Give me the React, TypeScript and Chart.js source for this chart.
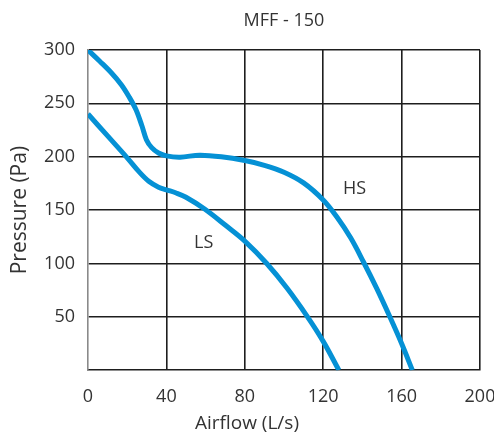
import React, { useEffect, useRef } from "react";
import { Chart, registerables } from "chart.js";

Chart.register(...registerables);

// ---- data ----
const hsFlow = [0, 6, 12, 17, 21, 24.5, 27.5, 29.8, 32.5, 36, 40, 47, 57, 68, 80, 90, 100, 110, 120, 127, 134, 140.5, 147.3, 154, 160, 165.5];
const hsPressure = [300, 289.5, 278.5, 267.5, 256, 244, 229, 216, 208.5, 203.5, 200.8, 199.6, 201.5, 200, 196.4, 192, 185.5, 175.5, 159.5, 143.5, 124, 101.6, 76.6, 50, 25, 0];

const lsFlow = [0, 10, 20, 26, 31, 36, 40, 45, 50, 59.5, 70, 80, 91.2, 101.5, 112, 120, 128];
const lsPressure = [240, 219.5, 199, 186, 177, 171.5, 169, 166, 162, 151, 136, 121, 100, 77, 50, 27, 0];

const xTicks = [0, 40, 80, 120, 160, 200];
const yTicks = [50, 100, 150, 200, 250, 300];

const curveLabels = ["HS", "LS"];
const curveLabelFlow = [136, 59];
const curveLabelPressure = [170, 119];

const chartTitle = "MFF - 150";
const xTitle = "Airflow (L/s)";
const yTitle = "Pressure (Pa)";

const FONT = "'Open Sans', 'Noto Sans', sans-serif";
const TEXT = "#333333";
const GRID = "#1e1e1e";
const BLUE = "#0591d5";

const curveLabelPlugin = {
  id: "curveLabels",
  afterDatasetsDraw(chart: any) {
    const { ctx, scales } = chart;
    ctx.save();
    ctx.font = `18px ${FONT}`;
    ctx.fillStyle = TEXT;
    ctx.textAlign = "center";
    ctx.textBaseline = "middle";
    curveLabels.forEach((t, i) => {
      const px = scales.x.getPixelForValue(curveLabelFlow[i]);
      const py = scales.y.getPixelForValue(curveLabelPressure[i]);
      ctx.fillText(t, px, py);
    });
    ctx.restore();
  },
};

export default function App() {
  const ref = useRef<HTMLCanvasElement | null>(null);

  useEffect(() => {
    if (!ref.current) return;
    const chart = new Chart(ref.current, {
      type: "scatter",
      data: {
        datasets: [
          {
            label: "HS",
            data: hsFlow.map((x, i) => ({ x, y: hsPressure[i] })),
            showLine: true,
            borderColor: BLUE,
            borderWidth: 5,
            pointRadius: 0,
            tension: 0.35,
            fill: false,
          },
          {
            label: "LS",
            data: lsFlow.map((x, i) => ({ x, y: lsPressure[i] })),
            showLine: true,
            borderColor: BLUE,
            borderWidth: 5,
            pointRadius: 0,
            tension: 0.35,
            fill: false,
          },
        ],
      },
      options: {
        animation: false,
        responsive: false,
        layout: { padding: 0 },
        plugins: {
          legend: { display: false },
          tooltip: { enabled: false },
          title: {
            display: true,
            text: chartTitle,
            fullSize: false,
            color: TEXT,
            font: { family: FONT, size: 18, weight: "normal" },
            padding: { top: 10, bottom: 18.4 },
          },
          subtitle: {
            display: true,
            text: xTitle,
            position: "bottom",
            fullSize: true,
            color: TEXT,
            font: { family: FONT, size: 19, weight: "normal" },
            padding: { top: 0, bottom: 2 },
          },
        },
        scales: {
          x: {
            type: "linear",
            min: 0,
            max: 200,
            afterBuildTicks: (axis: any) => {
              axis.ticks = xTicks.map((v) => ({ value: v }));
            },
            afterFit: (axis: any) => {
              axis.height = 42;
              axis.paddingLeft = 0;
              axis.paddingRight = 14;
            },
            ticks: {
              color: TEXT,
              padding: 16,
              maxRotation: 0,
              font: { family: FONT, size: 18 },
            },
            grid: {
              drawTicks: false,
              lineWidth: 1.6,
              color: (c: any) => (c.tick && c.tick.value === 0 ? "rgba(0,0,0,0)" : GRID),
            },
            border: { display: true, color: GRID, width: 1.6 },
          },
          y: {
            type: "linear",
            min: 0,
            max: 300,
            afterBuildTicks: (axis: any) => {
              axis.ticks = yTicks.map((v) => ({ value: v }));
            },
            afterFit: (axis: any) => {
              axis.width = 88;
            },
            ticks: {
              color: TEXT,
              padding: 13,
              font: { family: FONT, size: 18 },
            },
            grid: {
              drawTicks: false,
              lineWidth: 1.6,
              color: GRID,
            },
            border: { display: true, color: "#8a8a8a", width: 1.6 },
            title: {
              display: true,
              text: yTitle,
              color: TEXT,
              font: { family: FONT, size: 21, weight: "normal" },
              padding: { top: 7.4, bottom: 0 },
            },
          },
        },
      },
      plugins: [curveLabelPlugin],
    } as any);
    return () => chart.destroy();
  }, []);

  return (
    <div style={{ position: "fixed", left: 0, top: 0, width: 494, height: 437, background: "#fff" }}>
      <canvas ref={ref} width={494} height={437} style={{ display: "block" }} />
    </div>
  );
}
